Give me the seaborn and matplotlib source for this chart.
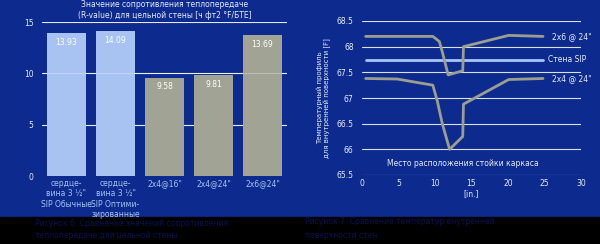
import matplotlib
matplotlib.use("Agg")
import matplotlib.pyplot as plt
import seaborn as sns
import pandas as pd

sns.set_theme(style="white")
plt.rcParams['font.family'] = ['DejaVu Sans']

# ---- data ----
categories = ["сердце-\nвина 3 ½\"\nSIP Обычные", "сердце-\nвина 3 ½\"\nSIP Оптими-\nзированные",
              "2x4@16\"", "2x4@24\"", "2x6@24\""]
r_values = [13.93, 14.09, 9.58, 9.81, 13.69]
bar_kind = ["sip", "sip", "frame", "frame", "frame"]

x_2x6 = [0.5, 9.7, 10.6, 11.0, 11.8, 13.8, 13.9, 20.1, 24.8]
t_2x6 = [68.2, 68.2, 68.1, 67.9, 67.45, 67.53, 68.0, 68.22, 68.2]
x_2x4 = [0.5, 4.8, 9.7, 10.3, 11.0, 12.0, 13.8, 13.9, 20.1, 24.8]
t_2x4 = [67.38, 67.37, 67.25, 66.95, 66.5, 66.0, 66.25, 66.88, 67.36, 67.38]
x_sip = [0.5, 24.8]
t_sip = [67.75, 67.75]

BG = "#0d2b8e"
LIGHT = "#a8c2f2"
GRAY = "#a1a494"
LINEG = "#9c9e8e"
TXT = "#e6ebf5"
CAP = "#07134e"

fig = plt.figure(figsize=(6.0, 2.44), dpi=100)
fig.patch.set_facecolor(BG)
# black strip with captions
fig.add_artist(plt.Rectangle((0, 0), 1, 27/244, transform=fig.transFigure, color="black", zorder=0))
fig.text(35/600, 1-224/244, "Рисунок 6. Сравнение значений сопротивления", color=CAP,
         fontsize=5.5, va="center")
fig.text(35/600, 1-236/244, "теплопередаче для цельной стены", color=CAP,
         fontsize=5.5, va="center")
fig.text(305/600, 1-222/244, "Рисунок 7. Сравнение температур внутренней", color=CAP,
         fontsize=5.5, va="center")
fig.text(305/600, 1-235/244, "поверхности стен", color=CAP,
         fontsize=5.5, va="center")

# ---- left bar chart ----
ax1 = fig.add_axes([42/600, 68/244, 245/600, 154/244])
ax1.set_facecolor(BG)
df = pd.DataFrame({"cat": categories, "val": r_values, "kind": bar_kind})
sns.barplot(data=df, x="cat", y="val", hue="kind", palette={"sip": LIGHT, "frame": GRAY},
            dodge=False, width=0.81, ax=ax1, legend=False, zorder=2, saturation=1,
            linewidth=0, edgecolor="none")
ax1.set_ylim(0, 15)
ax1.set_xlim(-0.5, 4.5)
ax1.set_yticks([0, 5, 10, 15])
for y in [5, 10, 15]:
    ax1.axhline(y, color="white", lw=0.8, alpha=0.9, zorder=1)
ax1.axhline(10, color="white", lw=0.6, alpha=0.35, zorder=3)
for i, v in enumerate(r_values):
    ax1.text(i, v - 0.9, f"{v:.2f}", ha="center", va="center", color="white", fontsize=5.5, zorder=4)
ax1.set_xlabel("")
ax1.set_ylabel("")
for s in ax1.spines.values():
    s.set_visible(False)
ax1.tick_params(axis="y", length=0, labelsize=5.5, labelcolor=TXT, pad=6)
ax1.tick_params(axis="x", length=0, labelsize=5.5, labelcolor=LIGHT, pad=2)
ax1.set_title("Значение сопротивления теплопередаче\n(R-value) для цельной стены [ч фт2 °F/БТЕ]",
              color=TXT, fontsize=5.5, pad=3, linespacing=1.3)

# ---- right line chart ----
ax2 = fig.add_axes([362/600, 69/244, 219/600, 154/244])
ax2.set_facecolor(BG)
ax2.set_xlim(0, 30)
ax2.set_ylim(65.5, 68.5)
ax2.set_yticks([65.5, 66, 66.5, 67, 67.5, 68, 68.5])
ax2.set_yticklabels(["65.5", "66", "66.5", "67", "67.5", "68", "68.5"])
ax2.set_xticks([0, 5, 10, 15, 20, 25, 30])
for y in [65.5, 66, 66.5, 67, 67.5, 68, 68.5]:
    ax2.axhline(y, color="white", lw=0.8, alpha=0.85, zorder=1)
sns.lineplot(x=x_sip, y=t_sip, ax=ax2, color="#a9c4f5", lw=2.0, zorder=2, sort=False, estimator=None)
sns.lineplot(x=x_2x6, y=t_2x6, ax=ax2, color=LINEG, lw=2.0, zorder=3, sort=False, estimator=None)
sns.lineplot(x=x_2x4, y=t_2x4, ax=ax2, color=LINEG, lw=2.0, zorder=3, sort=False, estimator=None)
ax2.text(26.0, 68.2, "2x6 @ 24\"", color=TXT, fontsize=5.5, va="center")
ax2.text(25.5, 67.75, "Стена SIP", color=TXT, fontsize=5.5, va="center")
ax2.text(26.0, 67.38, "2x4 @ 24\"", color=TXT, fontsize=5.5, va="center")
ax2.text(13.8, 65.72, "Место расположения стойки каркаса", color=TXT, fontsize=5.5,
         ha="center", va="center")
ax2.set_xlabel("[in.]", color=TXT, fontsize=5.5, labelpad=1)
ax2.set_ylabel("Температурный профиль\nдля внутренней поверхности [F]", color=TXT,
               fontsize=5.0, labelpad=4, linespacing=1.2)
for s in ax2.spines.values():
    s.set_visible(False)
ax2.tick_params(axis="both", length=0, labelsize=5.5, labelcolor=TXT)
ax2.tick_params(axis="y", pad=6)
ax2.tick_params(axis="x", pad=3)

fig.savefig("out.png", dpi=100, facecolor=BG)
